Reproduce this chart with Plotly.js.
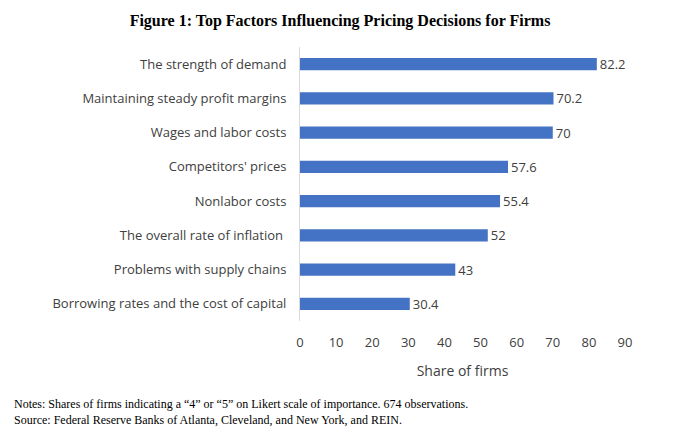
<!DOCTYPE html>
<html>
<head>
<meta charset="utf-8">
<script src="https://cdn.plot.ly/plotly-3.0.1.min.js"></script>
<style>body{margin:0;background:#fff}#chart{width:680px;height:444px}</style>
</head>
<body>
<div id="chart"></div>
<script>
// 数据：从上到下
const factors = [
  "The strength of demand",
  "Maintaining steady profit margins",
  "Wages and labor costs",
  "Competitors' prices",
  "Nonlabor costs",
  "The overall rate of inflation ",
  "Problems with supply chains",
  "Borrowing rates and the cost of capital",
];
const shares = [82.2, 70.2, 70, 57.6, 55.4, 52, 43, 30.4];
const tickVals = [0, 10, 20, 30, 40, 50, 60, 70, 80, 90];

const trace = {
  type: "bar",
  orientation: "h",
  x: shares,
  y: factors,
  marker: { color: "#4472C4" },
  text: shares.map(String),
  textposition: "outside",
  constraintext: "none",
  cliponaxis: false,
  textfont: { family: "Open Sans, sans-serif", size: 13, color: "#404040" },
  hoverinfo: "skip",
};

const layout = {
  width: 680,
  height: 444,
  margin: { t: 47, r: 55, b: 123, l: 300 },
  paper_bgcolor: "#fff",
  plot_bgcolor: "#fff",
  bargap: 0.64,
  showlegend: false,
  font: { family: "Open Sans, sans-serif", size: 13, color: "#404040" },
  title: {
    text: "<b>Figure 1: Top Factors Influencing Pricing Decisions for Firms</b>",
    font: { family: "Liberation Serif, serif", size: 16, color: "#000" },
    x: 0.5, xanchor: "center", y: 0.955, yanchor: "middle",
  },
  xaxis: {
    range: [0, 90],
    tickvals: tickVals,
    showgrid: false,
    zeroline: false,
    showline: false,
    ticks: "",
    ticklabelstandoff: 12,
    title: { text: "Share of firms", font: { size: 14 }, standoff: 16 },
  },
  yaxis: {
    autorange: "reversed",
    showgrid: false,
    ticks: "",
    ticklabelstandoff: 10,
    showline: true,
    linecolor: "#d9d9d9",
  },
  annotations: [
    {
      xref: "paper", yref: "paper", x: -0.886, y: -0.27, xanchor: "left", yanchor: "top",
      align: "left", showarrow: false,
      font: { family: "Liberation Serif, serif", size: 12, color: "#000" },
      text: "Notes: Shares of firms indicating a “4” or “5” on Likert scale of importance. 674 observations.<br>Source: Federal Reserve Banks of Atlanta, Cleveland, and New York, and REIN.",
    },
  ],
};

Plotly.newPlot("chart", [trace], layout, { displayModeBar: false, staticPlot: true });
</script>
</body>
</html>
